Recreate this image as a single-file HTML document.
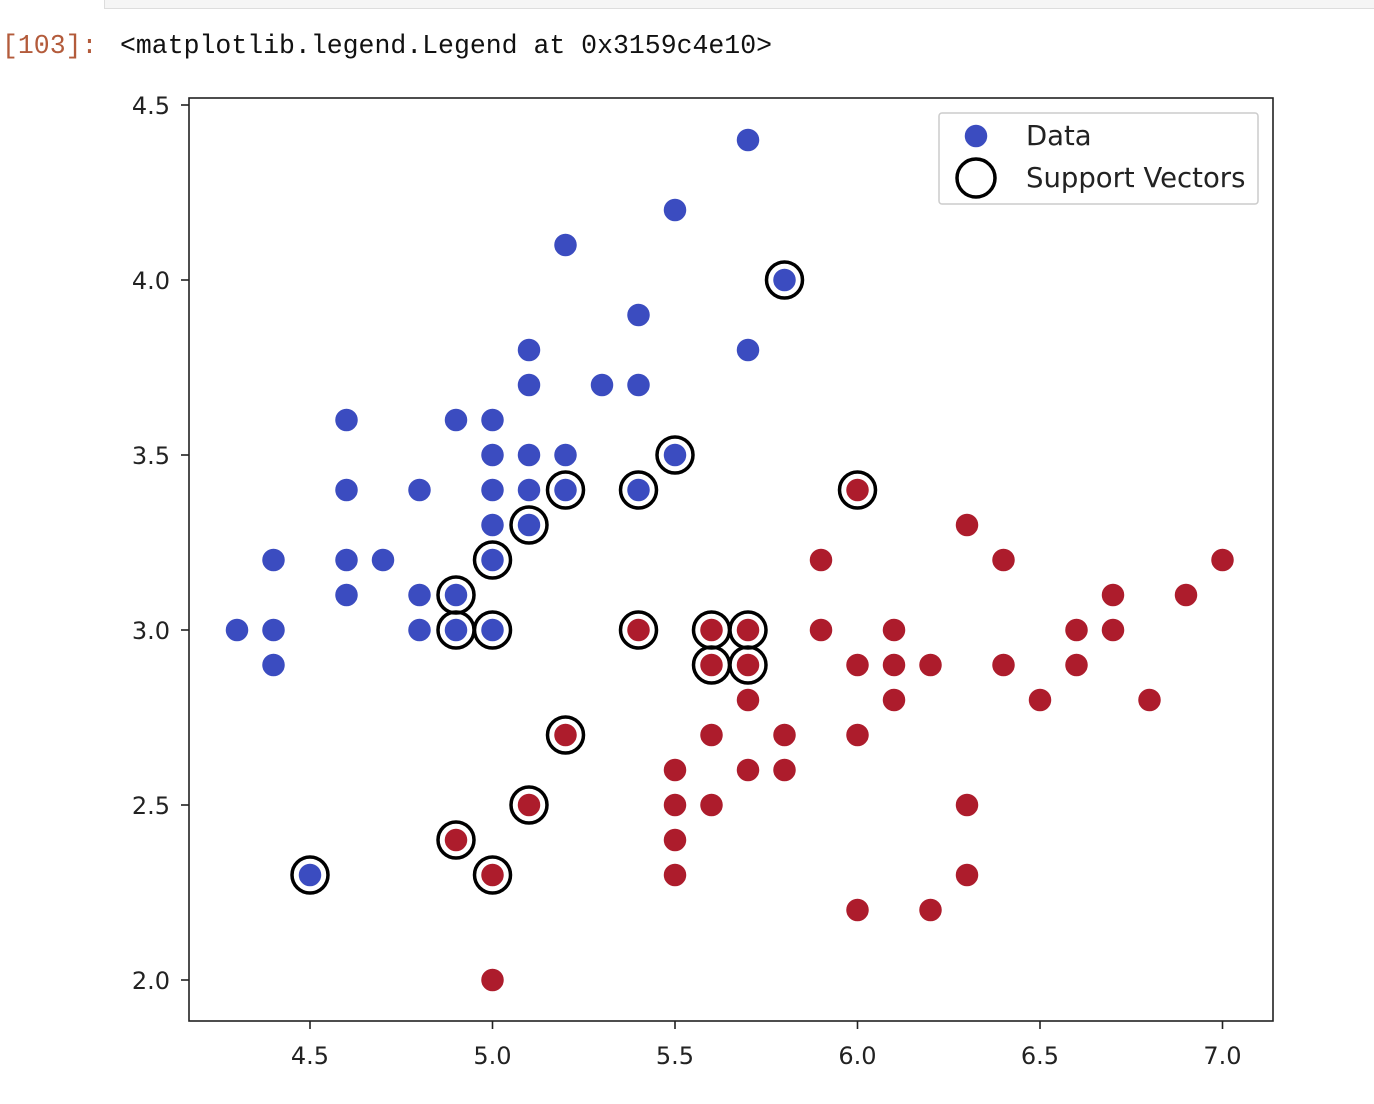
<!DOCTYPE html>
<html><head><meta charset="utf-8"><style>
body{margin:0;width:1374px;height:1104px;background:#fff;overflow:hidden;position:relative;font-family:"DejaVu Sans","Liberation Sans",sans-serif}
.cellbox{position:absolute;left:104px;top:-2px;width:1280px;height:9px;background:#f5f5f5;border:1px solid #ddd}
.prompt{position:absolute;left:2px;top:31px;font:26.5px "Liberation Mono","DejaVu Sans Mono",monospace;color:#b35b3b}
.out{position:absolute;left:120px;top:31px;font:26.5px "Liberation Mono","DejaVu Sans Mono",monospace;color:#111}
svg{position:absolute;left:0;top:0}
</style></head><body>
<div class="cellbox"></div>
<div class="prompt">[103]:</div>
<div class="out">&lt;matplotlib.legend.Legend at 0x3159c4e10&gt;</div>
<svg id="chart" width="1374" height="1104"></svg>
<script>
const blueX=[5.7,5.5,5.2,5.8,5.4,5.1,5.7,5.1,5.3,5.4,4.6,4.9,5.0,5.0,5.1,5.2,5.5,4.6,4.8,5.0,5.1,5.2,5.4,5.0,5.1,4.4,4.6,4.7,5.0,4.6,4.8,4.9,4.3,4.4,4.8,4.9,5.0,4.4,4.5];
const blueY=[4.4,4.2,4.1,4.0,3.9,3.8,3.8,3.7,3.7,3.7,3.6,3.6,3.6,3.5,3.5,3.5,3.5,3.4,3.4,3.4,3.4,3.4,3.4,3.3,3.3,3.2,3.2,3.2,3.2,3.1,3.1,3.1,3.0,3.0,3.0,3.0,3.0,2.9,2.3];
const redX=[6.0,6.3,5.9,6.4,7.0,6.7,6.9,5.4,5.6,5.7,5.9,6.1,6.6,6.7,5.6,5.7,6.0,6.1,6.2,6.4,6.6,5.7,6.1,6.5,6.8,5.2,5.6,5.8,6.0,5.5,5.7,5.8,5.1,5.5,5.6,6.3,4.9,5.5,5.0,5.5,6.3,6.0,6.2,5.0];
const redY=[3.4,3.3,3.2,3.2,3.2,3.1,3.1,3.0,3.0,3.0,3.0,3.0,3.0,3.0,2.9,2.9,2.9,2.9,2.9,2.9,2.9,2.8,2.8,2.8,2.8,2.7,2.7,2.7,2.7,2.6,2.6,2.6,2.5,2.5,2.5,2.5,2.4,2.4,2.3,2.3,2.3,2.2,2.2,2.0];
const svX=[5.8,5.5,5.2,5.4,5.1,5.0,4.9,4.9,5.0,4.5,6.0,5.4,5.6,5.7,5.6,5.7,5.2,5.1,4.9,5.0];
const svY=[4.0,3.5,3.4,3.4,3.3,3.2,3.1,3.0,3.0,2.3,3.4,3.0,3.0,3.0,2.9,2.9,2.7,2.5,2.4,2.3];
const xTicks=[4.5,5.0,5.5,6.0,6.5,7.0];
const yTicks=[2.0,2.5,3.0,3.5,4.0,4.5];
const sx=v=>310+(v-4.5)*365, sy=v=>105+(4.5-v)*350;
const svg=document.getElementById('chart'),NS='http://www.w3.org/2000/svg';
function mk(t,a,p){const e=document.createElementNS(NS,t);for(const k in a)e.setAttribute(k,a[k]);(p||svg).appendChild(e);return e;}
const frame=mk('rect',{x:189,y:98,width:1084,height:923,fill:'none',stroke:'#222','stroke-width':1.6});


xTicks.forEach(t=>{const x=sx(t);
 const l=mk('line',{x1:x,x2:x,y1:1021,y2:1029,stroke:'#222','stroke-width':1.6});
 
 
 const tx=mk('text',{x:x,y:1064,'text-anchor':'middle','font-size':24,fill:'#222'});tx.textContent=t.toFixed(1);
 
 });
yTicks.forEach(t=>{const y=sy(t);
 const l=mk('line',{x1:181,x2:189,y1:y,y2:y,stroke:'#222','stroke-width':1.6});
 
 
 const tx=mk('text',{x:170,y:y+9,'text-anchor':'end','font-size':24,fill:'#222'});tx.textContent=t.toFixed(1);
 
 });
blueX.forEach((v,i)=>{const c=mk('circle',{cx:sx(v),cy:sy(blueY[i]),r:12,fill:'#3b4cc0',stroke:'#fff','stroke-width':1.5});
 
 });
redX.forEach((v,i)=>{const c=mk('circle',{cx:sx(v),cy:sy(redY[i]),r:12,fill:'#ad1c2c',stroke:'#fff','stroke-width':1.5});
 
 });
svX.forEach((v,i)=>{const c=mk('circle',{cx:sx(v),cy:sy(svY[i]),r:18,fill:'none',stroke:'#000','stroke-width':3.5});
 
 });
const lg=mk('g',{});


mk('rect',{x:939,y:113,width:319,height:91,rx:3,fill:'#fff',stroke:'#ccc','stroke-width':1.5},lg);
mk('circle',{cx:976,cy:136,r:12,fill:'#3b4cc0',stroke:'#fff','stroke-width':1.5},lg);
mk('circle',{cx:976,cy:178,r:19,fill:'none',stroke:'#000','stroke-width':3.5},lg);
const t1=mk('text',{x:1026,y:145,'font-size':27.5,fill:'#222'},lg);t1.textContent='Data';


const t2=mk('text',{x:1026,y:187,'font-size':27.5,fill:'#222'},lg);t2.textContent='Support Vectors';


</script>
</body></html>
